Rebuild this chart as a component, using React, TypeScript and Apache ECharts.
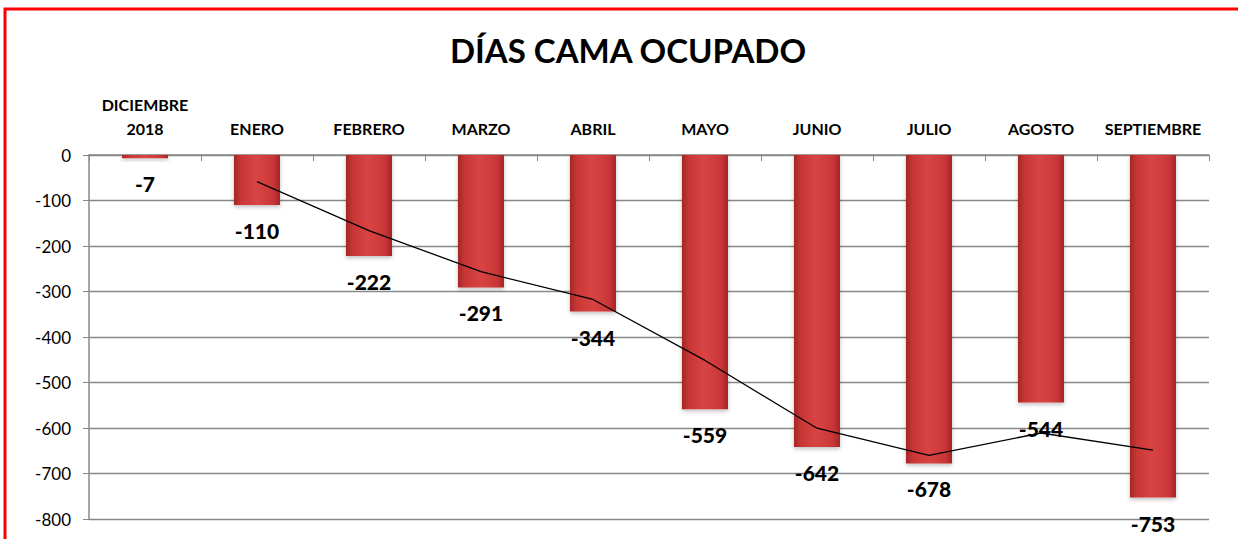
import React, { useEffect, useRef } from "react";
import * as echarts from "echarts";

const categories = [
  "DICIEMBRE\n2018",
  "ENERO",
  "FEBRERO",
  "MARZO",
  "ABRIL",
  "MAYO",
  "JUNIO",
  "JULIO",
  "AGOSTO",
  "SEPTIEMBRE",
];
const barValues = [-7, -110, -222, -291, -344, -559, -642, -678, -544, -753];
const trendValues: (number | string)[] = ["-", -58.5, -166, -256.5, -317.5, -451.5, -600.5, -660, -611, -648.5];
const titleText = "DÍAS CAMA OCUPADO";
const FONT = "Lato, 'Open Sans', sans-serif";

export default function App() {
  const ref = useRef<HTMLDivElement>(null);
  useEffect(() => {
    document.body.style.margin = "0";
    const chart = echarts.init(ref.current!, null, { renderer: "svg" });
    chart.setOption({
      animation: false,
      backgroundColor: "#ffffff",
      title: {
        text: titleText,
        left: 623,
        top: 28,
        textAlign: "center",
        textStyle: { fontFamily: FONT, fontWeight: "bold", fontSize: 33, color: "#000" },
      },
      graphic: [
        {
          type: "rect",
          shape: { x: 5, y: 9, width: 1260, height: 560 },
          style: { fill: "none", stroke: "#ff0000", lineWidth: 3 },
          silent: true,
          z: 100,
        },
      ],
      grid: { left: 89, right: 29, top: 155, bottom: 20, containLabel: false },
      xAxis: {
        type: "category",
        position: "top",
        data: categories,
        axisLine: { show: true, onZero: false, lineStyle: { color: "#888888", width: 1.5 } },
        axisTick: { show: true, inside: true, length: 6, lineStyle: { color: "#888888" } },
        axisLabel: {
          fontFamily: FONT,
          fontWeight: "bold",
          fontSize: 16,
          color: "#000",
          margin: 15,
          lineHeight: 24,
          interval: 0,
        },
      },
      yAxis: {
        type: "value",
        min: -800,
        max: 0,
        interval: 100,
        axisLine: { show: true, lineStyle: { color: "#888888", width: 1.5 } },
        axisTick: { show: true, length: 6, lineStyle: { color: "#888888" } },
        splitLine: { show: true, lineStyle: { color: "#888888", width: 1.3 } },
        axisLabel: { fontFamily: FONT, fontSize: 17, color: "#000", margin: 18 },
      },
      series: [
        {
          type: "bar",
          data: barValues,
          barWidth: 46,
          itemStyle: {
            color: new echarts.graphic.LinearGradient(0, 0, 1, 0, [
              { offset: 0, color: "#a52626" },
              { offset: 0.15, color: "#c93636" },
              { offset: 0.5, color: "#d94444" },
              { offset: 0.85, color: "#c93636" },
              { offset: 1, color: "#a52626" },
            ]),
            shadowColor: "rgba(0,0,0,0.25)",
            shadowBlur: 4,
            shadowOffsetY: 2,
          },
          label: {
            show: true,
            position: "bottom",
            distance: 15,
            fontFamily: FONT,
            fontWeight: 900,
            fontSize: 21,
            color: "#000",
          },
          z: 2,
        },
        {
          type: "line",
          data: trendValues,
          symbol: "none",
          lineStyle: { color: "#000", width: 1.3 },
          z: 3,
        },
      ],
    });
    return () => chart.dispose();
  }, []);
  return <div ref={ref} style={{ width: 1238, height: 539 }} />;
}
